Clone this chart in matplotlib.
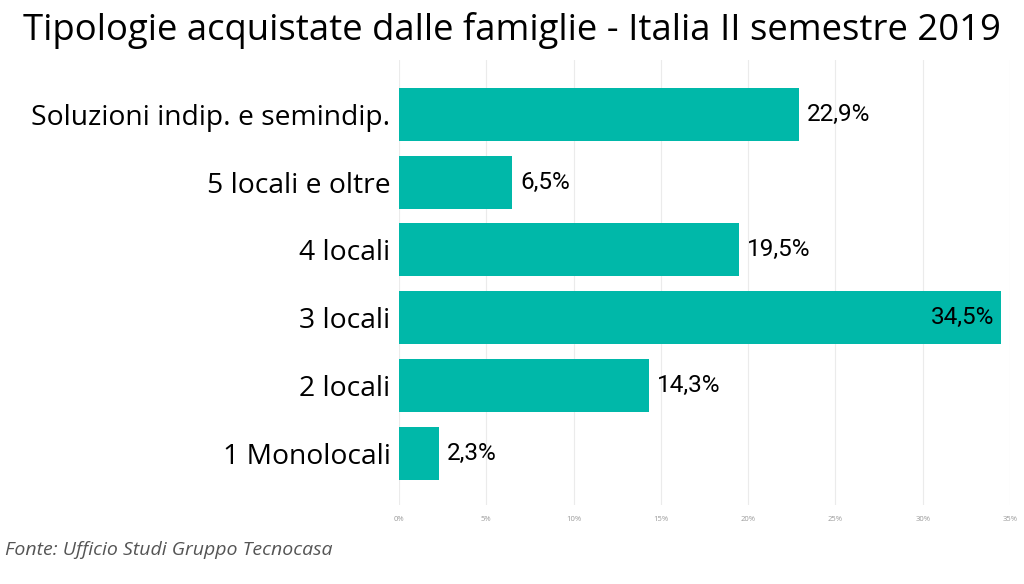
import matplotlib.pyplot as plt

CATEGORIES = ["1 Monolocali", "2 locali", "3 locali", "4 locali",
              "5 locali e oltre", "Soluzioni indip. e semindip."]
VALUES = [2.3, 14.3, 34.5, 19.5, 6.5, 22.9]
XTICKS = [0, 5, 10, 15, 20, 25, 30, 35]
BAR_COLOR = "#00B8A9"


def main():
    fig = plt.figure(figsize=(10.24, 5.84), dpi=100)
    ax = fig.add_axes([0.3896, 0.1353, 0.5967, 0.762])

    y = range(len(CATEGORIES))
    ax.barh(y, VALUES, height=0.78, color=BAR_COLOR, zorder=2)

    # value labels, inside for the longest bar
    for i, v in enumerate(VALUES):
        lbl = f"{v:.1f}%".replace(".", ",")
        if v > 30:
            ax.text(v - 0.4, i, lbl, ha="right", va="center",
                    fontsize=17.5, family="Roboto", color="black")
        else:
            ax.text(v + 0.45, i, lbl, ha="left", va="center",
                    fontsize=17.5, family="Roboto", color="black")

    ax.set_xlim(0, 35)
    ax.set_ylim(-0.76, 5.8)
    ax.set_yticks(list(y))
    ax.set_yticklabels(CATEGORIES, fontsize=20.3, family="Open Sans")
    ax.set_xticks(XTICKS)
    ax.set_xticklabels([f"{t}%" for t in XTICKS], fontsize=5.5,
                       color="#9a9a9a", family="Open Sans")
    ax.tick_params(axis="y", length=0, pad=6)
    ax.tick_params(axis="x", length=0, pad=8)
    ax.grid(axis="x", color="#ebebeb", linewidth=0.8, zorder=0)
    for s in ax.spines.values():
        s.set_visible(False)

    fig.text(0.5, 0.947, "Tipologie acquistate dalle famiglie - Italia II semestre 2019",
             ha="center", va="center", fontsize=26.3, family="Open Sans")
    fig.text(0.005, 0.058, "Fonte: Ufficio Studi Gruppo Tecnocasa",
             ha="left", va="center", fontsize=14, style="italic",
             family="Open Sans", color="#555555")

    fig.savefig("out.png", dpi=100)


if __name__ == "__main__":
    main()
